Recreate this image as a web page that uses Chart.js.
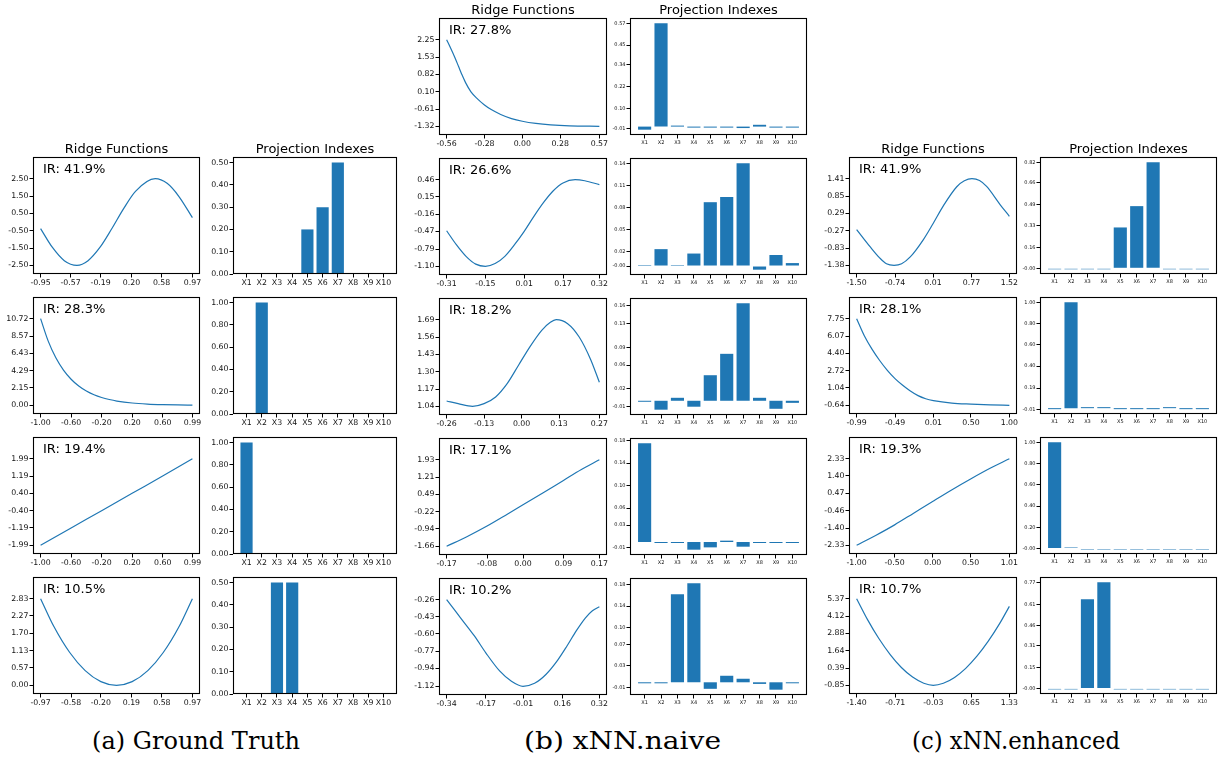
<!DOCTYPE html>
<html>
<head>
<meta charset="utf-8">
<script src="https://cdn.jsdelivr.net/npm/chart.js@4.4.1/dist/chart.umd.min.js"></script>
<style>
  body { margin: 0; background: #fff; width: 1219px; height: 761px; position: relative; overflow: hidden; }
  .cv { position: absolute; }
  .ttl { position: absolute; font: 13px "DejaVu Sans"; line-height: 13px; color: #000; transform: translateX(-50%); white-space: nowrap; }
  .cap { position: absolute; font: 24px "DejaVu Serif"; line-height: 24px; color: #000; white-space: nowrap; }
</style>
</head>
<body>
<script>
// bar categories
const barCategories = ["X1", "X2", "X3", "X4", "X5", "X6", "X7", "X8", "X9", "X10"];

// (a) ground truth
const truthIR = ["IR: 41.9%", "IR: 28.3%", "IR: 19.4%", "IR: 10.5%"];
const truthRidgeX = [
	[-0.95, -0.80, -0.65, -0.49, -0.35, -0.20, -0.05, 0.10, 0.25, 0.50, 0.65, 0.80, 0.97],
	[-1.00, -0.90, -0.80, -0.70, -0.60, -0.50, -0.40, -0.30, -0.20, -0.10, 0.00, 0.20, 0.40, 0.60, 0.80, 0.99],
	[-1.00, -0.60, -0.20, 0.20, 0.60, 0.99],
	[-0.97, -0.80, -0.60, -0.40, -0.20, 0.00, 0.20, 0.40, 0.60, 0.80, 0.97],
];
const truthRidgeY = [
	[-0.38, -1.47, -2.23, -2.50, -2.23, -1.47, -0.39, 0.77, 1.77, 2.50, 2.23, 1.47, 0.25],
	[10.72, 7.94, 5.88, 4.36, 3.23, 2.39, 1.77, 1.31, 0.97, 0.72, 0.53, 0.29, 0.16, 0.09, 0.05, 0.03],
	[-1.99, -1.19, -0.40, 0.40, 1.19, 1.99],
	[2.83, 1.92, 1.08, 0.48, 0.12, 0.00, 0.12, 0.48, 1.08, 1.92, 2.83],
];
const truthXTicks = [
	["-0.95", "-0.57", "-0.19", "0.20", "0.58", "0.97"],
	["-1.00", "-0.60", "-0.20", "0.20", "0.60", "0.99"],
	["-1.00", "-0.60", "-0.20", "0.20", "0.60", "0.99"],
	["-0.97", "-0.58", "-0.20", "0.19", "0.58", "0.97"],
];
const truthYTicks = [
	["-2.50", "-1.50", "-0.50", "0.50", "1.50", "2.50"],
	["0.00", "2.15", "4.29", "6.43", "8.57", "10.72"],
	["-1.99", "-1.19", "-0.40", "0.40", "1.19", "1.99"],
	["0.00", "0.57", "1.13", "1.70", "2.27", "2.83"],
];
const truthBars = [
	[0.003, 0.003, 0.003, 0.003, 0.20, 0.30, 0.50, 0.003, 0.003, 0.003],
	[0, 1.00, 0, 0, 0, 0, 0, 0, 0, 0],
	[1.00, 0, 0, 0, 0, 0, 0, 0, 0, 0],
	[0, 0, 0.50, 0.50, 0, 0, 0, 0, 0, 0],
];
const truthBarTicks = [
	["0.00", "0.10", "0.20", "0.30", "0.40", "0.50"],
	["0.00", "0.20", "0.40", "0.60", "0.80", "1.00"],
	["0.00", "0.20", "0.40", "0.60", "0.80", "1.00"],
	["0.00", "0.10", "0.20", "0.30", "0.40", "0.50"],
];

// (b) xNN.naive
const naiveIR = ["IR: 27.8%", "IR: 26.6%", "IR: 18.2%", "IR: 17.1%", "IR: 10.2%"];
const naiveRidgeX = [
	[-0.56, -0.53, -0.50, -0.47, -0.45, -0.42, -0.38, -0.33, -0.28, -0.23, -0.16, -0.08, 0.00, 0.10, 0.21, 0.35, 0.57],
	[-0.31, -0.27, -0.23, -0.19, -0.15, -0.11, -0.07, -0.03, 0.01, 0.05, 0.09, 0.13, 0.17, 0.22, 0.26, 0.32],
	[-0.26, -0.22, -0.17, -0.13, -0.09, -0.05, -0.01, 0.03, 0.07, 0.10, 0.12, 0.16, 0.20, 0.24, 0.27],
	[-0.17, -0.125, -0.08, -0.035, 0.00, 0.045, 0.09, 0.13, 0.17],
	[-0.34, -0.28, -0.22, -0.17, -0.11, -0.06, -0.01, 0.04, 0.09, 0.14, 0.18, 0.22, 0.26, 0.29, 0.32],
];
const naiveRidgeY = [
	[2.25, 1.90, 1.53, 1.12, 0.85, 0.48, 0.10, -0.20, -0.44, -0.63, -0.83, -1.00, -1.11, -1.20, -1.26, -1.30, -1.32],
	[-0.46, -0.71, -0.92, -1.06, -1.10, -1.05, -0.92, -0.71, -0.47, -0.20, 0.05, 0.26, 0.40, 0.46, 0.44, 0.37],
	[1.08, 1.06, 1.04, 1.06, 1.11, 1.21, 1.35, 1.49, 1.61, 1.67, 1.69, 1.66, 1.56, 1.39, 1.22],
	[-1.66, -1.26, -0.82, -0.33, 0.06, 0.56, 1.07, 1.52, 1.93],
	[-0.26, -0.44, -0.62, -0.79, -0.97, -1.07, -1.12, -1.09, -1.00, -0.86, -0.72, -0.57, -0.44, -0.37, -0.33],
];
const naiveXTicks = [
	["-0.56", "-0.28", "0.00", "0.28", "0.57"],
	["-0.31", "-0.15", "0.01", "0.17", "0.32"],
	["-0.26", "-0.13", "0.00", "0.13", "0.27"],
	["-0.17", "-0.08", "0.00", "0.09", "0.17"],
	["-0.34", "-0.17", "-0.01", "0.16", "0.32"],
];
const naiveYTicks = [
	["-1.32", "-0.61", "0.10", "0.82", "1.53", "2.25"],
	["-1.10", "-0.79", "-0.47", "-0.16", "0.15", "0.46"],
	["1.04", "1.17", "1.30", "1.43", "1.56", "1.69"],
	["-1.66", "-0.94", "-0.22", "0.49", "1.21", "1.93"],
	["-1.12", "-0.94", "-0.77", "-0.60", "-0.43", "-0.26"],
];
const naiveBars = [
	[-0.017, 0.570, 0.005, -0.004, -0.004, -0.004, -0.008, 0.010, -0.004, -0.004],
	[0.001, 0.023, 0.001, 0.017, 0.087, 0.094, 0.140, -0.005, 0.015, 0.004],
	[-0.001, -0.015, 0.005, -0.010, 0.043, 0.079, 0.164, 0.005, -0.0135, -0.0035],
	[0.175, -0.001, -0.001, -0.0136, -0.0095, 0.0024, -0.0083, -0.001, -0.001, -0.001],
	[-0.001, -0.001, 0.162, 0.182, -0.012, 0.012, 0.0065, -0.003, -0.0136, -0.001],
];
const naiveBarTicks = [
	["-0.01", "0.10", "0.22", "0.34", "0.45", "0.57"],
	["-0.00", "0.02", "0.05", "0.08", "0.11", "0.14"],
	["-0.01", "0.02", "0.06", "0.09", "0.13", "0.16"],
	["-0.01", "0.03", "0.06", "0.10", "0.14", "0.18"],
	["-0.01", "0.03", "0.07", "0.10", "0.14", "0.18"],
];

// (c) xNN.enhanced
const enhancedIR = ["IR: 41.9%", "IR: 28.1%", "IR: 19.3%", "IR: 10.7%"];
const enhancedRidgeX = [
	[-1.50, -1.235, -1.04, -0.91, -0.76, -0.61, -0.44, -0.18, 0.01, 0.22, 0.48, 0.63, 0.78, 0.93, 1.07, 1.34, 1.52],
	[-0.99, -0.89, -0.79, -0.69, -0.59, -0.49, -0.39, -0.29, -0.19, -0.09, 0.01, 0.25, 0.50, 0.75, 1.00],
	[-1.00, -0.75, -0.50, -0.25, 0.00, 0.25, 0.50, 0.75, 1.01],
	[-1.40, -1.20, -1.00, -0.80, -0.60, -0.40, -0.20, -0.03, 0.15, 0.35, 0.55, 0.75, 0.95, 1.15, 1.33],
];
const enhancedRidgeY = [
	[-0.23, -0.78, -1.15, -1.33, -1.38, -1.33, -1.11, -0.55, -0.04, 0.55, 1.15, 1.34, 1.41, 1.35, 1.16, 0.57, 0.20],
	[7.75, 6.10, 4.80, 3.70, 2.75, 1.95, 1.30, 0.75, 0.30, 0.00, -0.18, -0.42, -0.52, -0.59, -0.64],
	[-2.33, -1.80, -1.23, -0.60, 0.03, 0.65, 1.24, 1.80, 2.33],
	[5.37, 3.83, 2.49, 1.36, 0.43, -0.26, -0.70, -0.85, -0.70, -0.28, 0.37, 1.24, 2.30, 3.54, 4.82],
];
const enhancedXTicks = [
	["-1.50", "-0.74", "0.01", "0.77", "1.52"],
	["-0.99", "-0.49", "0.01", "0.50", "1.00"],
	["-1.00", "-0.50", "0.00", "0.50", "1.01"],
	["-1.40", "-0.71", "-0.03", "0.65", "1.33"],
];
const enhancedYTicks = [
	["-1.38", "-0.83", "-0.27", "0.29", "0.85", "1.41"],
	["-0.64", "1.04", "2.72", "4.40", "6.07", "7.75"],
	["-2.33", "-1.40", "-0.46", "0.47", "1.40", "2.33"],
	["-0.85", "0.39", "1.64", "2.88", "4.12", "5.37"],
];
const enhancedBars = [
	[-0.003, -0.003, -0.003, -0.003, 0.316, 0.481, 0.820, -0.003, -0.003, -0.003],
	[-0.005, 1.005, 0.003, 0.003, -0.005, -0.005, -0.005, 0.004, -0.005, -0.005],
	[1.00, 0.008, -0.002, -0.002, -0.002, -0.002, -0.002, -0.002, -0.002, -0.002],
	[-0.002, -0.002, 0.650, 0.773, -0.002, -0.002, -0.002, -0.002, -0.002, -0.002],
];
const enhancedBarTicks = [
	["-0.00", "0.16", "0.33", "0.49", "0.66", "0.82"],
	["-0.01", "0.19", "0.40", "0.60", "0.80", "1.00"],
	["-0.00", "0.20", "0.40", "0.60", "0.80", "1.00"],
	["-0.00", "0.15", "0.31", "0.46", "0.61", "0.77"],
];

const captions = ["(a) Ground Truth", "(b) xNN.naive", "(c) xNN.enhanced"];

// layout
const BOX_H = 117, PITCH = 140, AX_W = 40, AX_H = 18, PAD_T = 10, PAD_R = 14;
const BLUE = "#1f77b4";

const framePlugin = {
	id: "frame",
	afterDraw(chart, args, opts) {
		const a = chart.chartArea;
		const ctx = chart.ctx;
		ctx.save();
		ctx.strokeStyle = "#000";
		ctx.lineWidth = 1.1;
		ctx.strokeRect(a.left + 0.5, a.top + 0.5, a.right - a.left - 1, a.bottom - a.top - 1);
		if (opts.text) {
			ctx.fillStyle = "#000";
			ctx.font = '13px "DejaVu Sans"';
			ctx.textBaseline = "alphabetic";
			ctx.fillText(opts.text, a.left + 10, a.top + 16);
		}
		ctx.restore();
	},
};

function addCanvas(left, top, w, h) {
	const c = document.createElement("canvas");
	c.className = "cv";
	c.width = w;
	c.height = h;
	c.style.left = left + "px";
	c.style.top = top + "px";
	document.body.appendChild(c);
	return c;
}

function addText(cls, text, x, y) {
	const d = document.createElement("div");
	d.className = cls;
	d.textContent = text;
	d.style.left = x + "px";
	d.style.top = y + "px";
	document.body.appendChild(d);
	return d;
}

// caption stretched to the width it has in the original figure
function addCaption(text, left, right, y) {
	const d = addText("cap", text, left, y);
	const w = d.getBoundingClientRect().width;
	d.style.transformOrigin = "0 0";
	d.style.transform = "scaleX(" + (right - left) / w + ")";
}

function axis(pos, min, max, tickValues, tickLabels, fontSize) {
	return {
		type: "linear",
		position: pos,
		min: min,
		max: max,
		offset: false,
		afterBuildTicks: (scale) => {
			scale.ticks = tickValues.map((v) => ({ value: v }));
		},
		afterFit: (scale) => {
			if (pos === "left") {
				scale.width = AX_W;
			} else {
				scale.height = AX_H;
			}
		},
		grid: { display: true, offset: false, drawOnChartArea: false, drawTicks: true, tickLength: 3.5, color: "#000", lineWidth: 1 },
		border: { display: false },
		ticks: {
			autoSkip: false,
			maxRotation: 0,
			minRotation: 0,
			padding: 1,
			color: "#111",
			font: { family: "DejaVu Sans", size: fontSize },
			callback: (v, i) => tickLabels[i],
		},
	};
}

function baseOptions(scales, text) {
	return {
		responsive: false,
		animation: false,
		devicePixelRatio: 1,
		events: [],
		layout: { padding: { top: PAD_T, right: PAD_R, left: 0, bottom: 0 } },
		plugins: { legend: { display: false }, tooltip: { enabled: false }, frame: { text: text } },
		scales: scales,
	};
}

function ridgeChart(left, top, w, xs, ys, xLabels, yLabels, ir, fontSize) {
	const canvas = addCanvas(left - AX_W, top - PAD_T, AX_W + w + PAD_R, PAD_T + BOX_H + AX_H);
	const xVals = xLabels.map(parseFloat);
	const yVals = yLabels.map(parseFloat);
	const xr = xs[xs.length - 1] - xs[0];
	const yr = yVals[yVals.length - 1] - yVals[0];
	new Chart(canvas, {
		type: "line",
		data: {
			datasets: [
				{
					data: xs.map((x, i) => ({ x: x, y: ys[i] })),
					borderColor: BLUE,
					borderWidth: 1.2,
					pointRadius: 0,
					cubicInterpolationMode: "monotone",
					fill: false,
				},
			],
		},
		options: baseOptions(
			{
				x: axis("bottom", xs[0] - 0.05 * xr, xs[xs.length - 1] + 0.05 * xr, xVals, xLabels, fontSize),
				y: axis("left", yVals[0] - 0.1 * yr, yVals[yVals.length - 1] + 0.25 * yr, yVals, yLabels, fontSize),
			},
			ir
		),
		plugins: [framePlugin],
	});
}

function barChart(left, top, w, values, yLabels, fontSize) {
	const canvas = addCanvas(left - AX_W, top - PAD_T, AX_W + w + PAD_R, PAD_T + BOX_H + AX_H);
	const yVals = yLabels.map(parseFloat);
	const lo = Math.min(...values);
	const hi = Math.max(...values);
	const r = hi - Math.min(0, lo);
	const yMin = lo < 0 ? lo - 0.05 * r : 0;
	const yMax = hi + 0.05 * r;
	const idx = barCategories.map((c, i) => i);
	new Chart(canvas, {
		type: "bar",
		data: {
			datasets: [
				{
					data: values.map((v, i) => ({ x: i, y: v === 0 ? null : v })),
					backgroundColor: BLUE,
					borderWidth: 0,
					barPercentage: 0.8,
					categoryPercentage: 1.0,
					minBarLength: 1,
				},
			],
		},
		options: baseOptions(
			{
				x: axis("bottom", -0.89, 9.89, idx, barCategories, fontSize),
				y: axis("left", yMin, yMax, yVals, yLabels, fontSize),
			},
			null
		),
		plugins: [framePlugin],
	});
}

function drawGroup(g) {
	for (let i = 0; i < g.ir.length; i++) {
		const top = g.top + PITCH * i;
		ridgeChart(g.ridgeLeft, top, g.ridgeW, g.rx[i], g.ry[i], g.xt[i], g.yt[i], g.ir[i], g.ridgeFont);
		barChart(g.barLeft, top, g.barW, g.bars[i], g.bt[i], g.barFont);
	}
	addText("ttl", "Ridge Functions", g.ridgeLeft + g.ridgeW / 2, g.top - 15);
	addText("ttl", "Projection Indexes", g.barLeft + g.barW / 2, g.top - 15);
}

drawGroup({
	ir: truthIR, rx: truthRidgeX, ry: truthRidgeY, xt: truthXTicks, yt: truthYTicks, bars: truthBars, bt: truthBarTicks,
	ridgeLeft: 33, ridgeW: 167, barLeft: 233, barW: 164, top: 157, ridgeFont: 7.8, barFont: 7.8,
});
drawGroup({
	ir: naiveIR, rx: naiveRidgeX, ry: naiveRidgeY, xt: naiveXTicks, yt: naiveYTicks, bars: naiveBars, bt: naiveBarTicks,
	ridgeLeft: 439, ridgeW: 168, barLeft: 630, barW: 177, top: 18, ridgeFont: 7.8, barFont: 5,
});
drawGroup({
	ir: enhancedIR, rx: enhancedRidgeX, ry: enhancedRidgeY, xt: enhancedXTicks, yt: enhancedYTicks, bars: enhancedBars, bt: enhancedBarTicks,
	ridgeLeft: 849, ridgeW: 168, barLeft: 1040, barW: 177, top: 157, ridgeFont: 7.8, barFont: 5,
});

addCaption(captions[0], 92, 300, 729);
addCaption(captions[1], 524, 721, 729);
addCaption(captions[2], 912, 1120, 729);
</script>
</body>
</html>
